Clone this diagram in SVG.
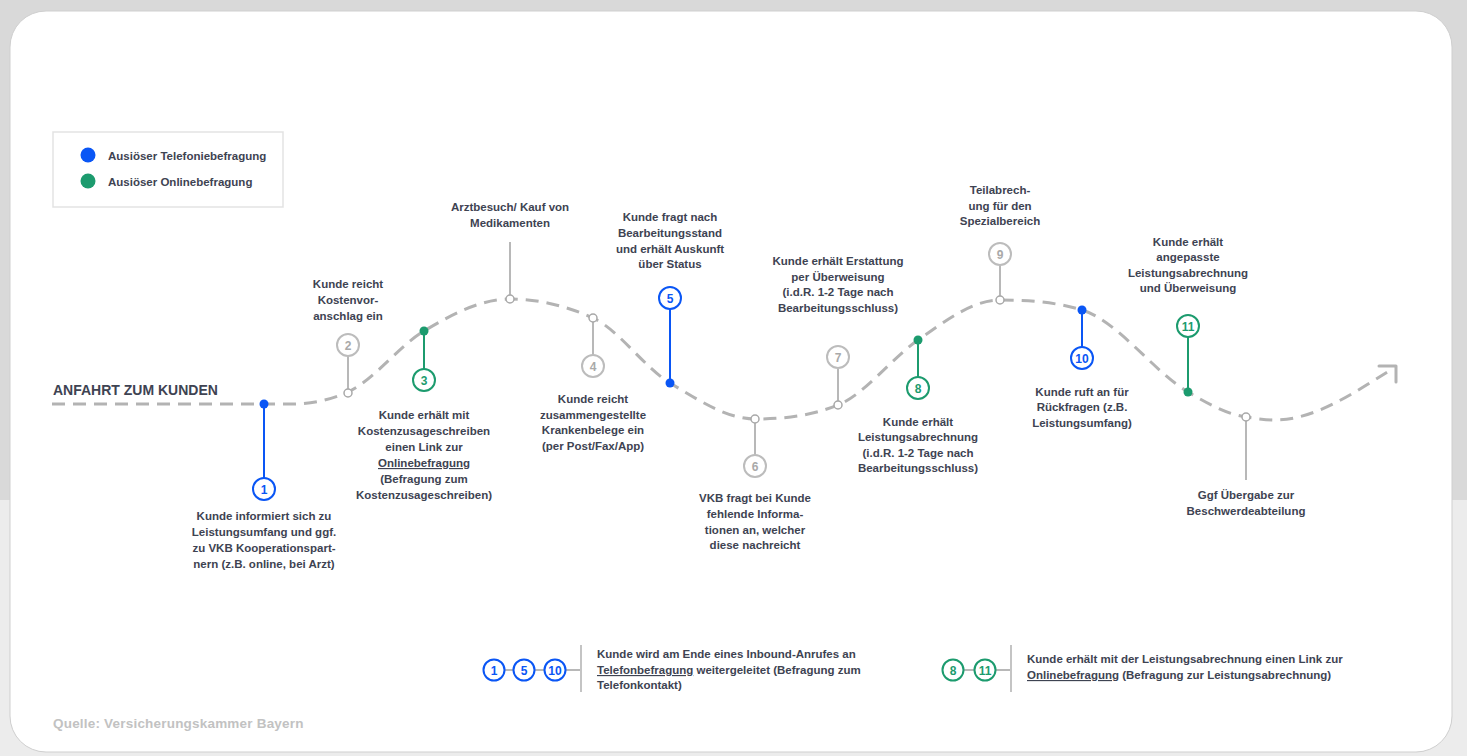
<svg xmlns="http://www.w3.org/2000/svg" width="1467" height="756" viewBox="0 0 1467 756">
<style>
.t{font-family:"Liberation Sans",Arial,sans-serif;font-size:11.5px;font-weight:bold;fill:#3e4352;text-anchor:middle}
.l{font-family:"Liberation Sans",Arial,sans-serif;font-size:11.5px;font-weight:bold;fill:#3e4352}
.u{text-decoration:underline}
.n{font-family:"Liberation Sans",Arial,sans-serif;font-size:12px;font-weight:bold;text-anchor:middle}
.cb{fill:#fff;stroke:#0a56f5;stroke-width:2}
.cg{fill:#fff;stroke:#1c9b6e;stroke-width:2}
.cy{fill:#fff;stroke:#bcbcbc;stroke-width:2}
.nb{fill:#0a56f5}.ng{fill:#1c9b6e}.ny{fill:#a9a9a9}
.sb{stroke:#0a56f5;stroke-width:2}
.sg{stroke:#1c9b6e;stroke-width:2}
.sy{stroke:#b8b8b8;stroke-width:2}
.h{fill:#fff;stroke:#a8a8a8;stroke-width:1.5}
.db{fill:#0a56f5}.dg{fill:#1c9b6e}
</style>
<rect x="0" y="0" width="1467" height="756" fill="#ececec"/>
<rect x="0" y="0" width="1467" height="500" fill="#d9d9d9"/>
<rect x="10" y="11" width="1442" height="741" rx="36" fill="#fff" stroke="#cfcfcf" stroke-width="1"/>

<g id="legend">
<rect x="53" y="132" width="230" height="75" fill="#fff" stroke="#e3e3e3" stroke-width="1.5"/>
<circle cx="88" cy="155" r="7.5" fill="#0a56f5"/>
<text class="l" x="108" y="160">Ausiöser Telefoniebefragung</text>
<circle cx="88" cy="181" r="7.5" fill="#1c9b6e"/>
<text class="l" x="108" y="186">Ausiöser Onlinebefragung</text>
</g>

<g id="title">
<text x="53" y="395" font-family="Liberation Sans, Arial, sans-serif" font-size="14" font-weight="bold" fill="#3e4352">ANFAHRT ZUM KUNDEN</text>
</g>

<g id="connectors" fill="none" stroke="#b3b3b3" stroke-width="3">
<path stroke-dasharray="13 8" d="M52,404 H290 C309.3,404 328.7,400.7 348,392 C373.3,380.6 398.7,346.2 424,331 C452.7,313.8 481.3,299 510,299 C537.7,299 565.3,305.5 593,318 C618.7,329.6 644.3,367.6 670,383 C698.3,400 726.7,419 755,419 C782.7,419 810.3,416.1 838,405 C864.7,394.3 891.3,358.7 918,340 C945.3,320.9 972.7,300 1000,300 C1027.3,300 1054.7,301.8 1082,310 C1117.3,320.6 1152.7,370.8 1188,392 C1207.3,403.6 1226.7,414.1 1246,417 C1255.7,418.5 1265.3,420 1275,420 C1315,420 1355,392 1389,371"/>
<polyline points="1379,366 1396,366 1396,382" stroke-linecap="round" stroke-linejoin="round"/>
</g>

<g id="node1">
<line class="sb" x1="264" y1="404" x2="264" y2="478"/>
<circle class="db" cx="264" cy="404" r="4.5"/>
<circle class="cb" cx="264" cy="489" r="11"/>
<text class="n nb" x="264" y="493.5">1</text>
<text class="t" x="264" y="520">Kunde informiert sich zu</text>
<text class="t" x="264" y="536">Leistungsumfang und ggf.</text>
<text class="t" x="264" y="552">zu VKB Kooperationspart-</text>
<text class="t" x="264" y="568">nern (z.B. online, bei Arzt)</text>
</g>

<g id="node2">
<line class="sy" x1="348" y1="356" x2="348" y2="392"/>
<circle class="h" cx="348" cy="393" r="4"/>
<circle class="cy" cx="348" cy="345" r="11"/>
<text class="n ny" x="348" y="349.5">2</text>
<text class="t" x="348" y="288">Kunde reicht</text>
<text class="t" x="348" y="304">Kostenvor-</text>
<text class="t" x="348" y="320">anschlag ein</text>
</g>

<g id="node3">
<line class="sg" x1="424" y1="331" x2="424" y2="369"/>
<circle class="dg" cx="424" cy="331" r="4.5"/>
<circle class="cg" cx="424" cy="380" r="11"/>
<text class="n ng" x="424" y="384.5">3</text>
<text class="t" x="424" y="419">Kunde erhält mit</text>
<text class="t" x="424" y="435">Kostenzusageschreiben</text>
<text class="t" x="424" y="451">einen Link zur</text>
<text class="t u" x="424" y="467">Onlinebefragung</text>
<text class="t" x="424" y="483">(Befragung zum</text>
<text class="t" x="424" y="499">Kostenzusageschreiben)</text>
</g>

<g id="arzt">
<line class="sy" x1="510" y1="242" x2="510" y2="296"/>
<circle class="h" cx="510" cy="299" r="4"/>
<text class="t" x="510" y="211">Arztbesuch/ Kauf von</text>
<text class="t" x="510" y="227">Medikamenten</text>
</g>

<g id="node4">
<line class="sy" x1="593" y1="322" x2="593" y2="355"/>
<circle class="h" cx="593" cy="318" r="4"/>
<circle class="cy" cx="593" cy="366" r="11"/>
<text class="n ny" x="593" y="370.5">4</text>
<text class="t" x="593" y="403">Kunde reicht</text>
<text class="t" x="593" y="419">zusammengestellte</text>
<text class="t" x="593" y="434">Krankenbelege ein</text>
<text class="t" x="593" y="450">(per Post/Fax/App)</text>
</g>

<g id="node5">
<line class="sb" x1="670" y1="309" x2="670" y2="383"/>
<circle class="db" cx="670" cy="383" r="4.5"/>
<circle class="cb" cx="670" cy="298" r="11"/>
<text class="n nb" x="670" y="302.5">5</text>
<text class="t" x="670" y="221">Kunde fragt nach</text>
<text class="t" x="670" y="237">Bearbeitungsstand</text>
<text class="t" x="670" y="253">und erhält Auskunft</text>
<text class="t" x="670" y="268">über Status</text>
</g>

<g id="node6">
<line class="sy" x1="755" y1="423" x2="755" y2="455"/>
<circle class="h" cx="755" cy="419" r="4"/>
<circle class="cy" cx="755" cy="466" r="11"/>
<text class="n ny" x="755" y="470.5">6</text>
<text class="t" x="755" y="502">VKB fragt bei Kunde</text>
<text class="t" x="755" y="518">fehlende Informa-</text>
<text class="t" x="755" y="534">tionen an, welcher</text>
<text class="t" x="755" y="549">diese nachreicht</text>
</g>

<g id="node7">
<line class="sy" x1="838" y1="369" x2="838" y2="401"/>
<circle class="h" cx="838" cy="405" r="4"/>
<circle class="cy" cx="838" cy="357" r="11"/>
<text class="n ny" x="838" y="361.5">7</text>
<text class="t" x="838" y="265">Kunde erhält Erstattung</text>
<text class="t" x="838" y="281">per Überweisung</text>
<text class="t" x="838" y="296">(i.d.R. 1-2 Tage nach</text>
<text class="t" x="838" y="312">Bearbeitungsschluss)</text>
</g>

<g id="node8">
<line class="sg" x1="918" y1="340" x2="918" y2="377"/>
<circle class="dg" cx="918" cy="340" r="4.5"/>
<circle class="cg" cx="918" cy="388" r="11"/>
<text class="n ng" x="918" y="392.5">8</text>
<text class="t" x="918" y="426">Kunde erhält</text>
<text class="t" x="918" y="441">Leistungsabrechnung</text>
<text class="t" x="918" y="457">(i.d.R. 1-2 Tage nach</text>
<text class="t" x="918" y="472">Bearbeitungsschluss)</text>
</g>

<g id="node9">
<line class="sy" x1="1000" y1="265" x2="1000" y2="296"/>
<circle class="h" cx="1000" cy="300" r="4"/>
<circle class="cy" cx="1000" cy="254" r="11"/>
<text class="n ny" x="1000" y="258.5">9</text>
<text class="t" x="1000" y="194">Teilabrech-</text>
<text class="t" x="1000" y="210">ung für den</text>
<text class="t" x="1000" y="225">Spezialbereich</text>
</g>

<g id="node10">
<line class="sb" x1="1082" y1="310" x2="1082" y2="347"/>
<circle class="db" cx="1082" cy="310" r="4.5"/>
<circle class="cb" cx="1082" cy="358" r="11"/>
<text class="n nb" x="1082" y="362.5">10</text>
<text class="t" x="1082" y="396">Kunde ruft an für</text>
<text class="t" x="1082" y="411">Rückfragen (z.B.</text>
<text class="t" x="1082" y="427">Leistungsumfang)</text>
</g>

<g id="node11">
<line class="sg" x1="1188" y1="337" x2="1188" y2="392"/>
<circle class="dg" cx="1188" cy="392" r="4.5"/>
<circle class="cg" cx="1188" cy="326" r="11"/>
<text class="n ng" x="1188" y="330.5">11</text>
<text class="t" x="1188" y="246">Kunde erhält</text>
<text class="t" x="1188" y="261">angepasste</text>
<text class="t" x="1188" y="277">Leistungsabrechnung</text>
<text class="t" x="1188" y="292">und Überweisung</text>
</g>

<g id="beschwerde">
<line class="sy" x1="1246" y1="421" x2="1246" y2="480"/>
<circle class="h" cx="1246" cy="417" r="4"/>
<text class="t" x="1246" y="499">Ggf Übergabe zur</text>
<text class="t" x="1246" y="515">Beschwerdeabteilung</text>
</g>

<g id="key-phone">
<line x1="504" y1="670" x2="514" y2="670" stroke="#b8b8b8" stroke-width="2"/>
<line x1="535" y1="670" x2="544" y2="670" stroke="#b8b8b8" stroke-width="2"/>
<line x1="566" y1="670" x2="581" y2="670" stroke="#b8b8b8" stroke-width="2"/>
<line x1="581" y1="645" x2="581" y2="692" stroke="#c4c4c4" stroke-width="2"/>
<circle class="cb" cx="494" cy="670" r="10.5"/>
<text class="n nb" x="494" y="674.5">1</text>
<circle class="cb" cx="524" cy="670" r="10.5"/>
<text class="n nb" x="524" y="674.5">5</text>
<circle class="cb" cx="555" cy="670" r="10.5"/>
<text class="n nb" x="555" y="674.5">10</text>
<text class="l" x="597" y="658">Kunde wird am Ende eines Inbound-Anrufes an</text>
<text class="l" x="597" y="674"><tspan class="u">Telefonbefragung</tspan> weitergeleitet (Befragung zum</text>
<text class="l" x="597" y="689">Telefonkontakt)</text>
</g>

<g id="key-online">
<line x1="964" y1="670" x2="974" y2="670" stroke="#b8b8b8" stroke-width="2"/>
<line x1="996" y1="670" x2="1011" y2="670" stroke="#b8b8b8" stroke-width="2"/>
<line x1="1011" y1="645" x2="1011" y2="692" stroke="#c4c4c4" stroke-width="2"/>
<circle class="cg" cx="953" cy="670" r="10.5"/>
<text class="n ng" x="953" y="674.5">8</text>
<circle class="cg" cx="985" cy="670" r="10.5"/>
<text class="n ng" x="985" y="674.5">11</text>
<text class="l" x="1027" y="663">Kunde erhält mit der Leistungsabrechnung einen Link zur</text>
<text class="l" x="1027" y="679"><tspan class="u">Onlinebefragung</tspan> (Befragung zur Leistungsabrechnung)</text>
</g>

<g id="source">
<text x="53" y="728" font-family="Liberation Sans, Arial, sans-serif" font-size="13.5" font-weight="bold" fill="#c2c2c2" letter-spacing="0.2">Quelle: Versicherungskammer Bayern</text>
</g>
</svg>
